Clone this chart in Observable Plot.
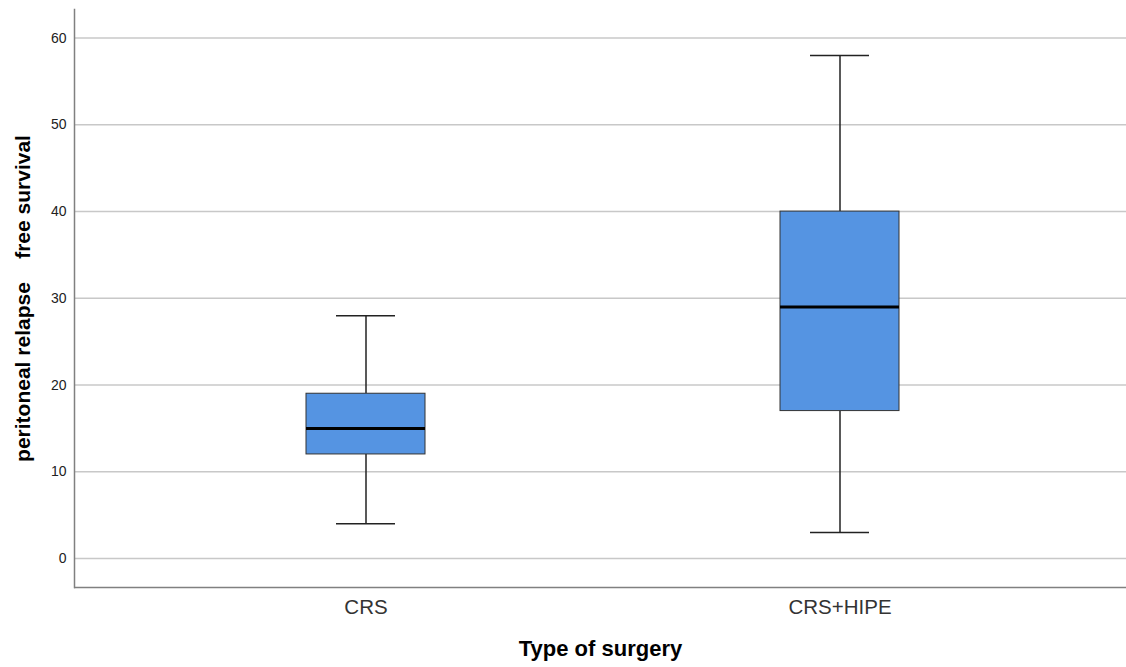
<!DOCTYPE html>
<html>
<head>
<meta charset="utf-8">
<script src="https://cdn.jsdelivr.net/npm/d3@7"></script>
<script src="https://cdn.jsdelivr.net/npm/@observablehq/plot@0.6"></script>
<style>
  html, body { margin: 0; padding: 0; background: #fff; }
  #chart { width: 1126px; height: 667px; }
  #chart svg text { white-space: pre; }
</style>
</head>
<body>
<div id="chart"></div>
<script>
const categories = ["CRS", "CRS+HIPE"];
const whiskerLow = [4, 3];
const q1 = [12, 17];
const median = [15, 29];
const q3 = [19, 40];
const whiskerHigh = [28, 58];
const yTicks = [0, 10, 20, 30, 40, 50, 60];
const yLabel = "peritoneal relapse    free survival";
const xLabel = "Type of surgery";

const stats = categories.map((c, i) => ({
  cat: c, lo: whiskerLow[i], q1: q1[i], med: median[i], q3: q3[i], hi: whiskerHigh[i]
}));

const font = "'Liberation Sans', Arial, sans-serif";
const yMin = -3.34, yMax = 63.3;

const chart = Plot.plot({
  width: 1126,
  height: 667,
  marginLeft: 74,
  marginRight: 0,
  marginTop: 9,
  marginBottom: 80,
  style: { fontFamily: font, background: "#fff" },
  x: { domain: categories, paddingInner: 0.75, paddingOuter: 0.4824, align: 0.505 },
  y: { domain: [yMin, yMax] },
  marks: [
    Plot.gridY(yTicks, { stroke: "#c8c8c8", strokeOpacity: 1, strokeWidth: 1.5 }),
    Plot.axisY(yTicks, { tickSize: 0, tickPadding: 8, fontSize: 14, fill: "#222", label: null }),
    Plot.axisX({ tickSize: 0, tickPadding: 12, fontSize: 20.5, fill: "#333", label: null }),
    Plot.ruleX(stats, { x: "cat", y1: "lo", y2: "q1", stroke: "#222", strokeWidth: 1.5 }),
    Plot.ruleX(stats, { x: "cat", y1: "q3", y2: "hi", stroke: "#222", strokeWidth: 1.5 }),
    Plot.tickY(stats, { x: "cat", y: "lo", stroke: "#222", strokeWidth: 1.5, insetLeft: 30, insetRight: 30 }),
    Plot.tickY(stats, { x: "cat", y: "hi", stroke: "#222", strokeWidth: 1.5, insetLeft: 30, insetRight: 30 }),
    Plot.barY(stats, { x: "cat", y1: "q1", y2: "q3", fill: "#5594e2", stroke: "#333", strokeWidth: 1 }),
    Plot.tickY(stats, { x: "cat", y: "med", stroke: "#000", strokeWidth: 3 }),
    Plot.ruleY([yMin], { stroke: "#808080", strokeWidth: 1.5 }),
    Plot.frame({ anchor: "left", stroke: "#808080", strokeWidth: 1.5 }),
    Plot.text([yLabel], { frameAnchor: "left", dx: -51, rotate: -90, textAnchor: "middle", fontSize: 21, fontWeight: "bold", fill: "#000", text: d => d }),
    Plot.text([xLabel], { frameAnchor: "bottom", dy: 68, fontSize: 22, fontWeight: "bold", fill: "#000", text: d => d })
  ]
});
document.getElementById("chart").appendChild(chart);
</script>
</body>
</html>
